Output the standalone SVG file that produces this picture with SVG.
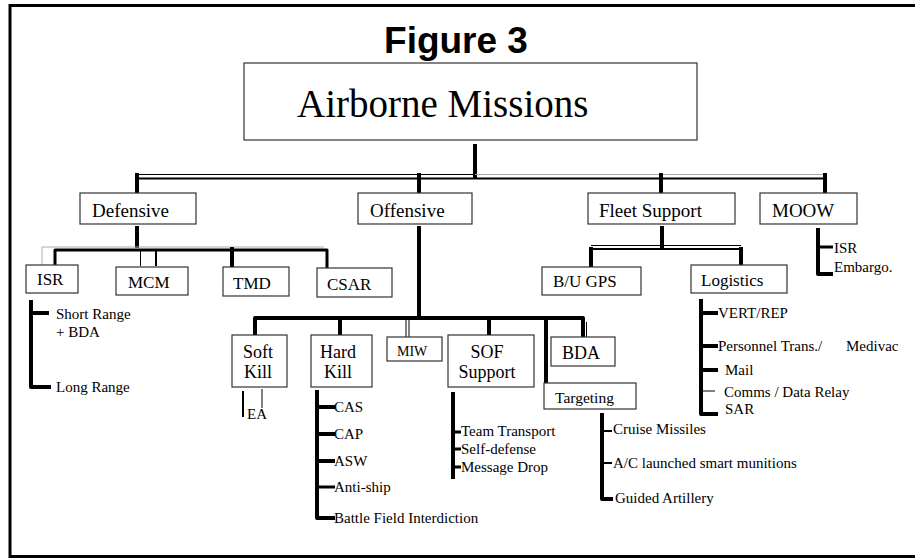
<svg xmlns="http://www.w3.org/2000/svg" width="915" height="560" viewBox="0 0 915 560">
<style>
.box{fill:#fff;stroke:#333;stroke-width:1.2}
.t{font-family:"Liberation Serif","Times New Roman",serif;fill:#000}
.s15{font-size:15px}
.s17{font-size:17px}
.s18{font-size:18px}
.s19{font-size:19px}
.k4{fill:none;stroke:#000;stroke-width:4;stroke-linejoin:round}
.k3{fill:none;stroke:#000;stroke-width:3;stroke-linejoin:round}
.k2{fill:none;stroke:#000;stroke-width:2}
.k1{fill:none;stroke:#000;stroke-width:1}
.g1{fill:none;stroke:#aaa;stroke-width:1}
</style>
<rect x="10" y="5.5" width="920" height="551" fill="#fff" stroke="#000" stroke-width="3"/>
<text x="456" y="53" font-family="Liberation Sans, Arial, sans-serif" font-weight="bold" font-size="37" text-anchor="middle">Figure 3</text>

<g id="connectors">
  <!-- level 1 -->
  <path class="k4" d="M475 144 V178"/>
  <path class="k1" d="M137 174.5 H475"/>
  <path class="g1" d="M475 174.5 H825"/>
  <path class="k2" d="M137 178.5 H825"/>
  <path class="k4" d="M137 173 V194 M419 173 V194 M661 173 V193 M825 173 V193"/>
  <!-- Defensive -->
  <path class="k4" d="M137 226 V248"/>
  <path class="g1" d="M42 265 V247 H324"/>
  <path class="k3" d="M55 266 V250 H327 V270"/>
  <path class="k1" d="M140.5 249 V266"/>
  <path class="k2" d="M156 249 V266"/>
  <path class="k4" d="M232 247 V267"/>
  <!-- Offensive -->
  <path class="k4" d="M419 226 V318"/>
  <path class="k4" d="M255 336 V318 H583 V337"/>
  <path class="k4" d="M340 318 V336 M489 318 V336 M546 318 V384"/>
  <path class="k1" d="M406 320 V338 M409 320 V338 M586.5 322 V337"/>
  <!-- ISR sub -->
  <path class="k4" d="M31 300 V387 H51 M31 313 H49"/>
  <!-- Soft Kill sub -->
  <path class="k2" d="M243 391 V417"/>
  <path class="k1" d="M262 389 V408"/>
  <!-- Hard Kill sub -->
  <path class="k4" d="M317 390 V518 H335 M317 407 H335 M317 434 H335 M317 461 H335"/>
  <path class="k3" d="M317 487 H335"/>
  <!-- SOF sub -->
  <path class="k4" d="M453 392 V479"/>
  <path class="k3" d="M453 432 H461 M453 449 H461 M453 467 H461"/>
  <!-- Targeting sub -->
  <path class="k4" d="M602 413 V499 H613"/>
  <path class="k2" d="M602 431 H612 M602 463 H612"/>
  <!-- Fleet Support -->
  <path class="k4" d="M662 226 V248"/>
  <path class="k1" d="M591 245.5 H741"/>
  <path class="k2" d="M591 249 H741"/>
  <path class="k4" d="M591 247 V267 M741 247 V267"/>
  <!-- Logistics sub -->
  <path class="k4" d="M701 299 V414 H718 M701 313 H718 M701 346 H718 M701 370 H718"/>
  <path class="k1" d="M702 391 H715"/>
  <!-- MOOW sub -->
  <path class="k4" d="M818 228 V274 H833"/>
  <path class="k3" d="M818 247 H833"/>
</g>

<g id="n-airborne"><rect class="box" x="244" y="63" width="453" height="77"/><text class="t" x="297" y="117" font-size="39">Airborne Missions</text></g>

<g id="n-defensive"><rect class="box" x="80" y="193" width="116" height="31"/><text class="t s19" x="92" y="217">Defensive</text></g>
<g id="n-offensive"><rect class="box" x="358" y="193" width="114" height="31"/><text class="t s19" x="370" y="217">Offensive</text></g>
<g id="n-fleet"><rect class="box" x="588" y="193" width="147" height="31"/><text class="t s19" x="599" y="217">Fleet Support</text></g>
<g id="n-moow"><rect class="box" x="760" y="193" width="97" height="31"/><text class="t s19" x="772" y="217">MOOW</text></g>

<g id="n-isr"><rect class="box" x="26" y="265" width="52" height="28"/><text class="t s17" x="37" y="285">ISR</text></g>
<g id="n-mcm"><rect class="box" x="116" y="267" width="72" height="28"/><text class="t s17" x="128" y="288">MCM</text></g>
<g id="n-tmd"><rect class="box" x="223" y="267" width="66" height="29"/><text class="t s17" x="233" y="289">TMD</text></g>
<g id="n-csar"><rect class="box" x="317" y="268" width="75" height="29"/><text class="t s17" x="327" y="290">CSAR</text></g>
<g id="n-isr-items"><text class="t s15" x="56" y="319">Short Range</text><text class="t s15" x="56" y="337">+ BDA</text><text class="t s15" x="56" y="392">Long Range</text></g>

<g id="n-softkill"><rect class="box" x="232" y="335" width="55" height="52"/><text class="t s18" x="258" y="358" text-anchor="middle">Soft</text><text class="t s18" x="258" y="378" text-anchor="middle">Kill</text></g>
<g id="n-hardkill"><rect class="box" x="311" y="335" width="61" height="52"/><text class="t s18" x="338" y="358" text-anchor="middle">Hard</text><text class="t s18" x="338" y="378" text-anchor="middle">Kill</text></g>
<g id="n-miw"><rect class="box" x="387" y="337" width="55" height="24"/><text class="t" x="397" y="356" font-size="14">MIW</text></g>
<g id="n-sof"><rect class="box" x="448" y="335" width="86" height="52"/><text class="t s18" x="487" y="358" text-anchor="middle">SOF</text><text class="t s18" x="487" y="378" text-anchor="middle">Support</text></g>
<g id="n-bda"><rect class="box" x="551" y="337" width="64" height="29"/><text class="t s18" x="562" y="359">BDA</text></g>
<g id="n-targeting"><rect class="box" x="544" y="383" width="92" height="26"/><text class="t" x="555" y="403" font-size="15.5">Targeting</text></g>

<g id="n-ea"><text class="t s15" x="247" y="419">EA</text></g>
<g id="n-hk-items"><text class="t s15" x="334" y="412">CAS</text><text class="t s15" x="334" y="439">CAP</text><text class="t s15" x="334" y="466">ASW</text><text class="t s15" x="334" y="492">Anti-ship</text><text class="t s15" x="334" y="523">Battle Field Interdiction</text></g>
<g id="n-sof-items"><text class="t s15" x="461" y="436">Team Transport</text><text class="t s15" x="461" y="454">Self-defense</text><text class="t s15" x="461" y="472">Message Drop</text></g>
<g id="n-tgt-items"><text class="t s15" x="613" y="434">Cruise Missiles</text><text class="t s15" x="613" y="468">A/C launched smart munitions</text><text class="t s15" x="615" y="503">Guided Artillery</text></g>

<g id="n-bugps"><rect class="box" x="542" y="267" width="99" height="28"/><text class="t s17" x="553" y="287">B/U GPS</text></g>
<g id="n-logistics"><rect class="box" x="691" y="265" width="96" height="28"/><text class="t s17" x="701" y="286">Logistics</text></g>
<g id="n-log-items"><text class="t s15" x="718" y="318">VERT/REP</text><text class="t s15" x="718" y="351">Personnel Trans./</text><text class="t s15" x="846" y="351">Medivac</text><text class="t s15" x="725" y="375">Mail</text><text class="t s15" x="724" y="397">Comms / Data Relay</text><text class="t s15" x="725" y="414">SAR</text></g>
<g id="n-moow-items"><text class="t s15" x="834" y="253">ISR</text><text class="t s15" x="834" y="272">Embargo.</text></g>
</svg>
